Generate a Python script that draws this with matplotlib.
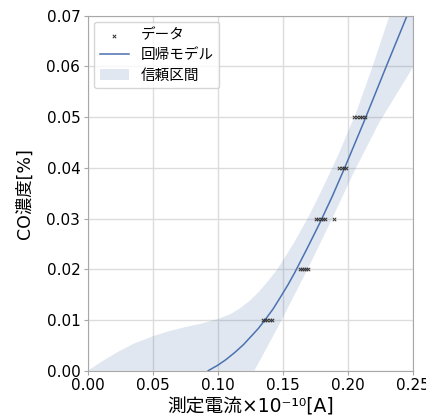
import numpy as np
import matplotlib
matplotlib.use('Agg')
import matplotlib.pyplot as plt

plt.rcParams['font.family'] = ['DejaVu Sans', 'Noto Sans CJK JP']

# measured points (current x1e-10 A, CO concentration %)
data_x = [0.1345, 0.1365, 0.138, 0.140, 0.1415,
          0.1635, 0.165, 0.1665, 0.168, 0.169,
          0.1755, 0.177, 0.179, 0.181, 0.182, 0.189,
          0.1935, 0.1955, 0.197, 0.1985,
          0.205, 0.207, 0.209, 0.211, 0.213]
data_y = [0.01] * 5 + [0.02] * 5 + [0.03] * 6 + [0.04] * 4 + [0.05] * 5

# regression curve
fit_x = [0.0925, 0.100, 0.106, 0.113, 0.1195, 0.126, 0.131, 0.1362, 0.1425,
         0.1488, 0.154, 0.159, 0.169, 0.1785, 0.188, 0.1975, 0.2125,
         0.2295, 0.2455, 0.249]
fit_y = [0.0, 0.0011, 0.00215, 0.0036, 0.0051, 0.0069, 0.0083, 0.0100, 0.0122,
         0.0148, 0.0170, 0.0193, 0.0243, 0.0292, 0.0344, 0.0400, 0.0492,
         0.0600, 0.0700, 0.0722]

# confidence band edges
upper_x = [0.0, 0.01, 0.023, 0.035, 0.05, 0.0625, 0.075, 0.0875, 0.10, 0.11,
           0.117, 0.125, 0.132, 0.139, 0.1457, 0.158, 0.170, 0.181, 0.1925,
           0.2065, 0.219, 0.232, 0.235]
upper_y = [0.0, 0.0017, 0.0037, 0.0053, 0.0068, 0.0078, 0.0086, 0.0093, 0.0102,
           0.0112, 0.0123, 0.0139, 0.0157, 0.0178, 0.0200, 0.0250, 0.0305,
           0.0362, 0.0425, 0.0510, 0.0600, 0.0700, 0.0725]
lower_x = [0.128, 0.1376, 0.149, 0.169, 0.1877, 0.2045, 0.224, 0.25, 0.27]
lower_y = [0.0, 0.0045, 0.0100, 0.0200, 0.0299, 0.0391, 0.0489, 0.0598, 0.0675]

blue = '#4c72b0'

fig = plt.figure(figsize=(4.27, 4.19), dpi=100)
ax = fig.add_axes([0.206, 0.1153, 0.761, 0.8472])

band_x = upper_x + [0.27] + lower_x[::-1]
band_y = upper_y + [0.0725] + lower_y[::-1]
ax.fill(band_x, band_y, color=blue, alpha=0.17, lw=0, label='信頼区間')
ax.plot(fit_x, fit_y, color=blue, lw=1.1, label='回帰モデル')
ax.scatter(data_x, data_y, marker='x', s=6, color='#333333', linewidths=0.7,
           label='データ', zorder=3)

ax.set_xlim(0, 0.25)
ax.set_ylim(0, 0.07)
ax.set_xticks(np.arange(0, 0.26, 0.05))
ax.set_yticks(np.arange(0, 0.071, 0.01))
ax.xaxis.set_major_formatter(matplotlib.ticker.FormatStrFormatter('%.2f'))
ax.yaxis.set_major_formatter(matplotlib.ticker.FormatStrFormatter('%.2f'))
ax.grid(True, color='#dcdcdc', lw=1)
ax.set_axisbelow(True)
for s in ax.spines.values():
    s.set_color('#a8a8a8')
ax.tick_params(labelsize=11, length=3, color='#a8a8a8', labelcolor='black', pad=2.5)

ax.set_xlabel('測定電流×10⁻¹⁰[A]', fontsize=13.5, labelpad=3)
ax.set_ylabel('CO濃度[%]', fontsize=12.5, labelpad=9)

h, l = ax.get_legend_handles_labels()
order = [2, 1, 0]
ax.legend([h[i] for i in order], [l[i] for i in order], loc='upper left',
          fontsize=10.5, frameon=True, borderaxespad=0.4, handlelength=2.0,
          labelspacing=0.35, borderpad=0.4)

fig.savefig('out.png', dpi=100)
